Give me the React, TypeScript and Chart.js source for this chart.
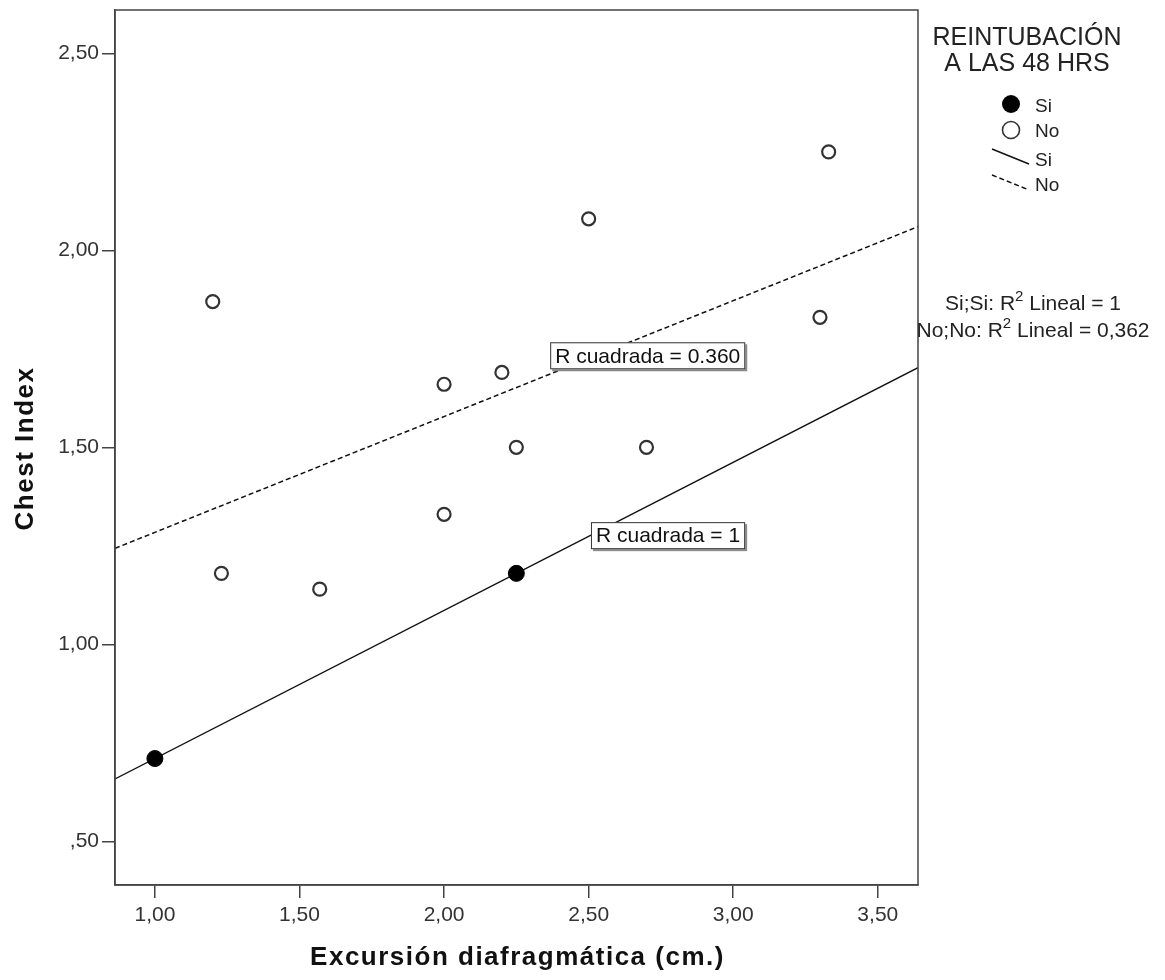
import React, { useEffect, useRef } from "react";
import { Chart, registerables } from "chart.js";

Chart.register(...registerables);

// ---------- data ----------
const siX = [1.0, 2.25];
const siY = [0.71, 1.18];
const noX = [1.2, 1.23, 1.57, 2.0, 2.0, 2.2, 2.25, 2.5, 2.7, 3.3, 3.33];
const noY = [1.87, 1.18, 1.14, 1.66, 1.33, 1.69, 1.5, 2.08, 1.5, 1.83, 2.25];
const xTicks = [1.0, 1.5, 2.0, 2.5, 3.0, 3.5];
const yTicks = [0.5, 1.0, 1.5, 2.0, 2.5];
const xRange = [0.862, 3.639];
const yRange = [0.389, 2.61];
const xTitle = "Excursión diafragmática (cm.)";
const yTitle = "Chest Index";
const legendTitle = ["REINTUBACIÓN", "A LAS 48 HRS"];
const legendItems = ["Si", "No", "Si", "No"];
const fitLabelSi = "R cuadrada = 1";
const fitLabelNo = "R cuadrada = 0.360";

function fit(xs: number[], ys: number[]) {
  const n = xs.length;
  const mx = xs.reduce((a, b) => a + b, 0) / n;
  const my = ys.reduce((a, b) => a + b, 0) / n;
  let sxy = 0, sxx = 0, syy = 0;
  for (let i = 0; i < n; i++) {
    sxy += (xs[i] - mx) * (ys[i] - my);
    sxx += (xs[i] - mx) ** 2;
    syy += (ys[i] - my) ** 2;
  }
  const slope = sxy / sxx;
  const icpt = my - slope * mx;
  const r2 = syy === 0 ? 1 : (sxy * sxy) / (sxx * syy);
  return { slope, icpt, r2 };
}

const fmt = (v: number) => v.toFixed(2).replace(".", ",").replace(/^0/, "");

const FONT = "'Liberation Sans', Arial, sans-serif";

export default function App() {
  const ref = useRef<HTMLCanvasElement>(null);
  useEffect(() => {
    const fSi = fit(siX, siY);
    const fNo = fit(noX, noY);
    const lineData = (f: { slope: number; icpt: number }) =>
      xRange.map((x) => ({ x, y: f.icpt + f.slope * x }));

    const overlay = {
      id: "overlay",
      afterDraw(chart: any) {
        const ctx = chart.ctx as CanvasRenderingContext2D;
        const a = chart.chartArea;
        const xs = chart.scales.x;
        const ys = chart.scales.y;
        ctx.save();
        // frame
        ctx.strokeStyle = "#444";
        ctx.lineWidth = 1.5;
        ctx.strokeRect(a.left, a.top, a.right - a.left, a.bottom - a.top);

        // fit labels
        const box = (text: string, dx: number, dy: number) => {
          const px = xs.getPixelForValue(dx);
          const py = ys.getPixelForValue(dy);
          ctx.font = `21px ${FONT}`;
          const w = ctx.measureText(text).width + 10;
          const h = 27;
          ctx.fillStyle = "#8a8a8a";
          ctx.fillRect(px + 2, py + 2, w, h);
          ctx.fillStyle = "#fff";
          ctx.fillRect(px, py, w, h);
          ctx.strokeStyle = "#333";
          ctx.lineWidth = 1;
          ctx.strokeRect(px + 0.5, py + 0.5, w - 1, h - 1);
          ctx.fillStyle = "#111";
          ctx.textAlign = "left";
          ctx.textBaseline = "middle";
          ctx.fillText(text, px + 5, py + h / 2 + 1);
        };
        box(fitLabelNo, 2.367, 1.7666);
        box(fitLabelSi, 2.508, 1.31);

        // axis titles
        ctx.fillStyle = "#111";
        ctx.font = `bold 26px ${FONT}`;
        (ctx as any).letterSpacing = "1.5px";
        ctx.textAlign = "center";
        ctx.textBaseline = "alphabetic";
        ctx.fillText(xTitle, (a.left + a.right) / 2 + 1, 965);
        ctx.save();
        ctx.translate(33, (a.top + a.bottom) / 2 + 1);
        ctx.rotate(-Math.PI / 2);
        ctx.fillText(yTitle, 0, 0);
        ctx.restore();
        (ctx as any).letterSpacing = "0px";

        // legend
        ctx.fillStyle = "#222";
        ctx.font = `25px ${FONT}`;
        ctx.textAlign = "center";
        ctx.textBaseline = "middle";
        ctx.fillText(legendTitle[0], 1027, 38);
        ctx.fillText(legendTitle[1], 1027, 64);
        // markers
        ctx.beginPath();
        ctx.arc(1011, 104, 9, 0, Math.PI * 2);
        ctx.fillStyle = "#000";
        ctx.fill();
        ctx.beginPath();
        ctx.arc(1011, 130, 8.5, 0, Math.PI * 2);
        ctx.fillStyle = "#fff";
        ctx.fill();
        ctx.strokeStyle = "#333";
        ctx.lineWidth = 1.6;
        ctx.stroke();
        ctx.strokeStyle = "#111";
        ctx.lineWidth = 1.4;
        ctx.beginPath();
        ctx.moveTo(992, 149);
        ctx.lineTo(1029, 164);
        ctx.stroke();
        ctx.setLineDash([5, 3]);
        ctx.beginPath();
        ctx.moveTo(992, 175);
        ctx.lineTo(1029, 190);
        ctx.stroke();
        ctx.setLineDash([]);
        ctx.fillStyle = "#222";
        ctx.font = `19px ${FONT}`;
        ctx.textAlign = "left";
        const ly = [107, 132, 161, 186];
        legendItems.forEach((t, i) => ctx.fillText(t, 1035, ly[i]));

        // R2 text
        const r2line = (prefix: string, val: string, cy: number) => {
          ctx.font = `21px ${FONT}`;
          const w1 = ctx.measureText(prefix + "R").width;
          ctx.font = `15px ${FONT}`;
          const w2 = ctx.measureText("2").width;
          ctx.font = `21px ${FONT}`;
          const rest = " Lineal = " + val;
          const w3 = ctx.measureText(rest).width;
          const total = w1 + w2 + w3;
          let x = 1033 - total / 2;
          ctx.textAlign = "left";
          ctx.textBaseline = "middle";
          ctx.fillText(prefix + "R", x, cy);
          x += w1;
          ctx.font = `15px ${FONT}`;
          ctx.fillText("2", x, cy - 7);
          x += w2;
          ctx.font = `21px ${FONT}`;
          ctx.fillText(rest, x, cy);
        };
        r2line("Si;Si: ", String(Math.round(fSi.r2 * 1000) / 1000).replace(".", ","), 304);
        r2line("No;No: ", fNo.r2.toFixed(3).replace(".", ","), 331);
        ctx.restore();
      },
    };

    const chart = new Chart(ref.current as HTMLCanvasElement, {
      type: "scatter",
      data: {
        datasets: [
          {
            label: "Si",
            data: siX.map((x, i) => ({ x, y: siY[i] })),
            pointRadius: 8,
            backgroundColor: "#000",
            borderColor: "#000",
            borderWidth: 1,
          },
          {
            label: "No",
            data: noX.map((x, i) => ({ x, y: noY[i] })),
            pointRadius: 6.5,
            backgroundColor: "#fff",
            borderColor: "#333",
            borderWidth: 2.2,
          },
          {
            label: "Si fit",
            data: lineData(fSi),
            showLine: true,
            pointRadius: 0,
            borderColor: "#111",
            borderWidth: 1.4,
          },
          {
            label: "No fit",
            data: lineData(fNo),
            showLine: true,
            pointRadius: 0,
            borderColor: "#111",
            borderWidth: 1.5,
            borderDash: [5, 3],
          },
        ],
      },
      options: {
        animation: false,
        responsive: false,
        devicePixelRatio: 1,
        layout: { padding: { left: 0, top: 10, right: 247, bottom: 0 } },
        plugins: { legend: { display: false }, tooltip: { enabled: false } },
        scales: {
          x: {
            type: "linear",
            min: xRange[0],
            max: xRange[1],
            afterBuildTicks: (s: any) => {
              s.ticks = xTicks.map((v) => ({ value: v }));
            },
            afterFit: (s: any) => {
              s.height = 95;
              s.paddingLeft = 0;
              s.paddingRight = 0;
            },
            ticks: {
              callback: (v: any) => fmt(Number(v)),
              font: { family: FONT, size: 21 },
              color: "#333",
              padding: 5,
              maxRotation: 0,
              autoSkip: false,
            },
            grid: { display: true, drawOnChartArea: false, drawTicks: true, tickLength: 13, color: "#444", lineWidth: 1.5 },
            border: { display: true, color: "#444", width: 1.5 },
          },
          y: {
            type: "linear",
            min: yRange[0],
            max: yRange[1],
            afterBuildTicks: (s: any) => {
              s.ticks = yTicks.map((v) => ({ value: v }));
            },
            afterFit: (s: any) => {
              s.width = 115;
              s.paddingTop = 0;
              s.paddingBottom = 0;
            },
            ticks: {
              callback: (v: any) => fmt(Number(v)),
              font: { family: FONT, size: 21 },
              color: "#333",
              padding: 3,
              autoSkip: false,
            },
            grid: { display: true, drawOnChartArea: false, drawTicks: true, tickLength: 13, color: "#444", lineWidth: 1.5 },
            border: { display: true, color: "#444", width: 1.5 },
          },
        },
      },
      plugins: [overlay],
    } as any);
    return () => chart.destroy();
  }, []);

  return (
    <div style={{ position: "absolute", left: 0, top: 0, width: 1165, height: 980, background: "#fff" }}>
      <canvas ref={ref} width={1165} height={980} style={{ display: "block" }} />
    </div>
  );
}
